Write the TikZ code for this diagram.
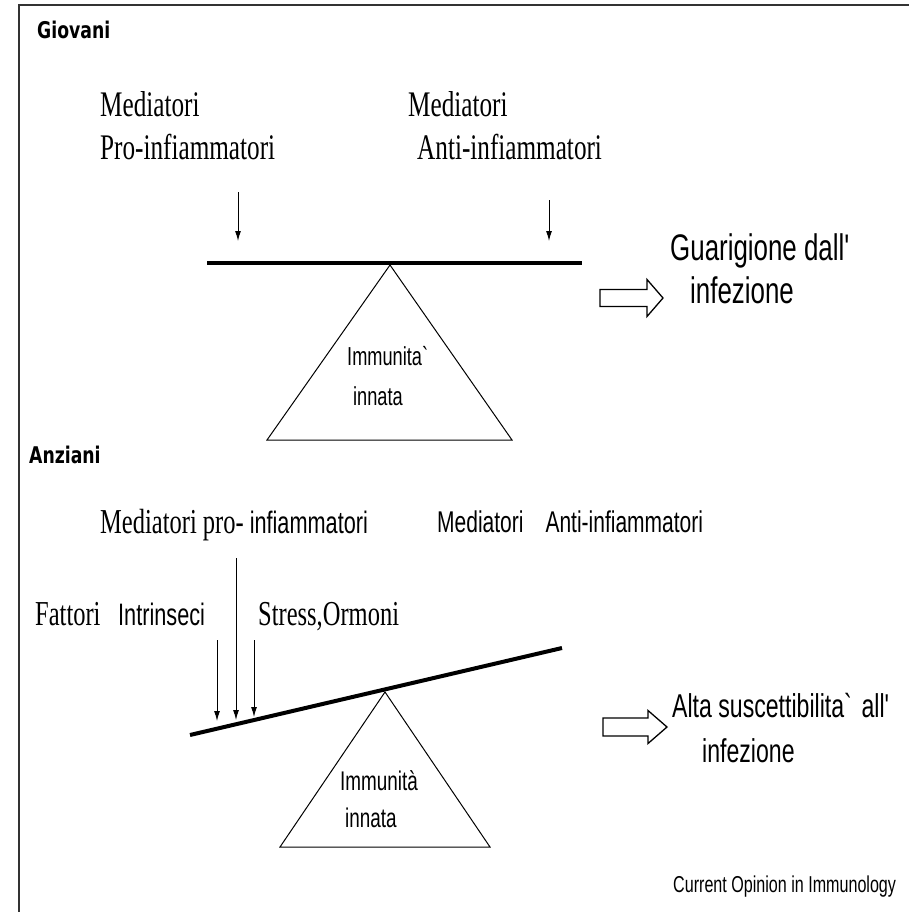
\documentclass[tikz,border=0pt]{standalone}
\usepackage{fontspec}
\setmainfont{Liberation Serif}
\newfontfamily\narrowserif[FakeStretch=0.7]{Liberation Serif}
\newfontfamily\narrowsans[FakeStretch=0.7]{Liberation Sans}
\newfontfamily\headsans[FakeStretch=0.75]{DejaVu Sans}
\usetikzlibrary{arrows.meta}

\begin{document}
\begin{tikzpicture}
[every node/.style={inner sep=0pt, anchor=base west},
 sertext/.style={font=\narrowserif\fontsize{#1}{#1}\selectfont},
 santext/.style={font=\narrowsans\fontsize{#1}{#1}\selectfont},
 headtext/.style={font=\headsans\bfseries\fontsize{23}{23}\selectfont},
 push/.style={line width=1pt, -{Latex[length=10pt,width=6pt]}},
 beam/.style={line width=4pt},
 fulcrum/.style={line width=1pt},
 fatarrow/.style={line width=1.3pt}]
\useasboundingbox (0pt, 0pt) rectangle (909pt, -912pt);
\draw [line width=2pt, color=black!80] (909pt, -5pt) -- (19pt, -5pt) -- (19pt, -912pt);
\node (giov) [headtext] at (37pt, -39pt) {Giovani};
\node (proA) [sertext=36] at (100pt, -117pt) {Mediatori};
\node (proB) [sertext=36] at (100pt, -160pt) {Pro-infiammatori};
\node (antiA) [sertext=36] at (408pt, -117pt) {Mediatori};
\node (antiB) [sertext=36] at (417pt, -160pt) {Anti-infiammatori};
\coordinate (p1s) at (238pt, -192pt);
\coordinate (p1e) at (238pt, -241pt);
\coordinate (p2s) at (549pt, -200pt);
\coordinate (p2e) at (549pt, -241pt);
\draw [push] (p1s) to (p1e);
\draw [push] (p2s) to (p2e);
\coordinate (b1l) at (207pt, -263pt);
\coordinate (b1r) at (582pt, -263pt);
\draw [beam] (b1l) to (b1r);
\draw [fulcrum] (390pt, -265pt) -- (267pt, -440pt) -- (512pt, -440pt) -- cycle;
\node (immA) [santext=26] at (347pt, -365pt) {Immunita\textasciigrave};
\node (immB) [santext=26] at (353pt, -405pt) {innata};
\coordinate (f1) at (600pt, -298pt);
\draw [fatarrow] (f1) -- ++(0pt, 8.5pt) -- ++(47pt, 0pt) -- ++(0pt, 10pt) -- ++(16pt, -18.5pt) -- ++(-16pt, -18.5pt) -- ++(0pt, 10pt) -- ++(-47pt, 0pt) -- cycle;
\node (guarA) [santext=37] at (670pt, -260pt) {Guarigione dall\textquotesingle};
\node (guarB) [santext=37] at (690pt, -303pt) {infezione};
\node (anz) [headtext] at (29pt, -463pt) {Anziani};
\node (proC) [sertext=35] at (100pt, -533pt) {Mediatori pro-\hspace{6pt}{\narrowsans\fontsize{31}{31}\selectfont infiammatori}};
\node (antiC) [santext=30] at (437pt, -532pt) {Mediatori\hspace{22pt}Anti-infiammatori};
\node (fatt) [sertext=35] at (35pt, -625pt) {Fattori};
\node (intr) [santext=31] at (118pt, -625pt) {Intrinseci};
\node (stress) [sertext=35] at (258pt, -625pt) {Stress,Ormoni};
\coordinate (p3s) at (217pt, -640pt);
\coordinate (p3e) at (217pt, -721pt);
\coordinate (p4s) at (236pt, -558pt);
\coordinate (p4e) at (236pt, -720pt);
\coordinate (p5s) at (254pt, -640pt);
\coordinate (p5e) at (254pt, -717pt);
\draw [push] (p3s) to (p3e);
\draw [push] (p4s) to (p4e);
\draw [push] (p5s) to (p5e);
\coordinate (b2l) at (190pt, -735pt);
\coordinate (b2r) at (562pt, -648pt);
\draw [beam] (b2l) to (b2r);
\draw [fulcrum] (385pt, -692pt) -- (280pt, -847pt) -- (490pt, -847pt) -- cycle;
\node (immC) [santext=27] at (340pt, -790pt) {Immunità};
\node (immD) [santext=27] at (345pt, -827pt) {innata};
\coordinate (f2) at (603pt, -727pt);
\draw [fatarrow] (f2) -- ++(0pt, 9pt) -- ++(45pt, 0pt) -- ++(0pt, 7.5pt) -- ++(19pt, -16.5pt) -- ++(-19pt, -16.5pt) -- ++(0pt, 7.5pt) -- ++(-45pt, 0pt) -- cycle;
\node (altaA) [santext=33] at (672pt, -717pt) {Alta suscettibilita\textasciigrave\ all\textquotesingle};
\node (altaB) [santext=33] at (702pt, -762pt) {infezione};
\node (src) [santext=23] at (673pt, -892pt) {Current Opinion in Immunology};
\end{tikzpicture}
\end{document}
